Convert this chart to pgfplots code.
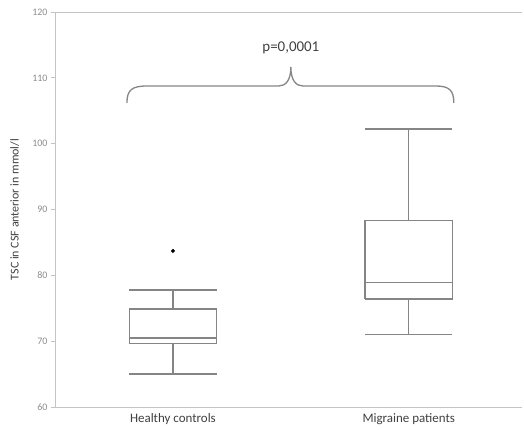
\documentclass[border=0pt]{standalone}
\usepackage{pgfplots}
\pgfplotsset{compat=1.18}
\usepackage{fontspec}
\setmainfont{Carlito}
\definecolor{boxgray}{HTML}{858585}
\definecolor{axgray}{HTML}{C4C4C4}
\definecolor{tickgray}{HTML}{8C8C8C}
\definecolor{txtgray}{HTML}{404040}

\begin{document}
\begin{tikzpicture}
\begin{axis}[
    scale only axis,
    width=467bp, height=395bp,
    at={(0,0)}, anchor=south west,
    xmin=0.5, xmax=2.48,
    ymin=60, ymax=120,
    axis x line*=bottom, axis y line*=left,
    axis line style={axgray, line width=0.8bp, -},
    ytick={60,70,...,120},
    ytick style={axgray, line width=0.8bp},
    tick align=outside, major tick length=4bp,
    yticklabel style={font=\fontsize{10}{12}\selectfont, text=tickgray},
    /pgf/number format/assume math mode=true,
    xtick={1,2},
    xticklabels={Healthy controls, Migraine patients},
    xtick style={draw=none},
    xticklabel style={font=\fontsize{13}{15}\selectfont, text=txtgray, yshift=1bp},
    ylabel={TSC in CSF anterior in mmol/l},
    ylabel style={at={(axis description cs:-0.086,0.5)}, anchor=center,
        font=\fontsize{12}{14}\selectfont, text=txtgray},
    clip=false,
]
\draw[axgray, line width=0.8bp] (rel axis cs:0,1) -- (rel axis cs:1,1);

% Healthy controls: box, median, whiskers
\addplot[boxgray, line width=1.4bp, line join=miter, unbounded coords=jump, mark=none] coordinates {
    (0.815,69.6) (1.185,69.6) (1.185,74.9) (0.815,74.9) (0.815,69.6) (nan,nan)
    (0.815,70.5) (1.185,70.5) (nan,nan)
    (1,74.9) (1,77.8) (nan,nan)
    (0.815,77.8) (1.185,77.8) (nan,nan)
    (1,69.6) (1,65.0) (nan,nan)
    (0.815,65.0) (1.185,65.0)
};
% outlier
\addplot[only marks, mark=*, mark size=1.8bp, black] coordinates {(1,83.7)};

% Migraine patients
\addplot[boxgray, line width=1.4bp, line join=miter, unbounded coords=jump, mark=none] coordinates {
    (1.815,76.4) (2.185,76.4) (2.185,88.3) (1.815,88.3) (1.815,76.4) (nan,nan)
    (1.815,78.9) (2.185,78.9) (nan,nan)
    (2,88.3) (2,102.2) (nan,nan)
    (1.815,102.2) (2.185,102.2) (nan,nan)
    (2,76.4) (2,71.0) (nan,nan)
    (1.815,71.0) (2.185,71.0)
};

% brace
\draw[boxgray, line width=1.3bp]
    (axis cs:0.805,106.18) .. controls (axis cs:0.805,108.15) and (axis cs:0.826,108.76) .. (axis cs:0.890,108.76)
    -- (axis cs:1.449,108.76) .. controls (axis cs:1.479,108.76) and (axis cs:1.500,109.67) .. (axis cs:1.500,111.65)
    .. controls (axis cs:1.500,109.67) and (axis cs:1.521,108.76) .. (axis cs:1.551,108.76)
    -- (axis cs:2.114,108.76) .. controls (axis cs:2.170,108.76) and (axis cs:2.191,108.15) .. (axis cs:2.191,106.18);
\node[font=\fontsize{15}{17}\selectfont, text=txtgray] at (axis cs:1.5,114.5) {p=0,0001};
\end{axis}
\pgfresetboundingbox
\path (-55bp,-23bp) rectangle (469bp,407bp);
\end{tikzpicture}
\end{document}
